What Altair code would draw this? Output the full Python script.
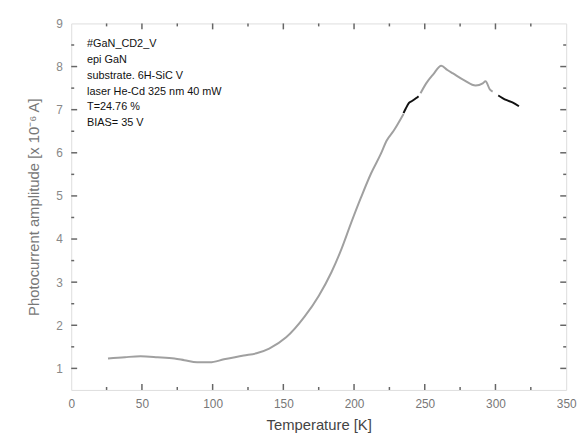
import altair as alt
import pandas as pd

# Main curve (gray), patched sections (black)
gray_a_x = [26, 38, 49, 61, 73, 80, 89, 98, 108, 122, 131, 140, 152, 165, 175, 184, 191, 198, 205, 212, 219, 223, 228, 235]
gray_a_y = [1.23, 1.26, 1.28, 1.26, 1.23, 1.19, 1.14, 1.14, 1.21, 1.30, 1.35, 1.46, 1.72, 2.20, 2.68, 3.23, 3.76, 4.38, 4.97, 5.52, 5.98, 6.28, 6.51, 6.90]
black_a_x = [235, 236.5, 238.7, 241, 244, 245.6]
black_a_y = [6.92, 7.02, 7.15, 7.20, 7.27, 7.31]
gray_b_x = [247, 251, 256, 261.7, 266, 270, 278, 286, 291, 293, 296, 298]
gray_b_y = [7.38, 7.61, 7.82, 8.02, 7.92, 7.84, 7.68, 7.56, 7.61, 7.66, 7.47, 7.42]
black_b_x = [302, 305, 308, 312, 316.6]
black_b_y = [7.33, 7.27, 7.22, 7.17, 7.08]

x_major = [50, 100, 150, 200, 250, 300]
x_minor = [25, 75, 125, 175, 225, 275, 325]
y_major = [1, 2, 3, 4, 5, 6, 7, 8]
y_minor = [1.5, 2.5, 3.5, 4.5, 5.5, 6.5, 7.5, 8.5]
x_labels = [0, 50, 100, 150, 200, 250, 300, 350]
y_labels = [1, 2, 3, 4, 5, 6, 7, 8, 9]

annotation = ["#GaN_CD2_V", "epi GaN", "substrate. 6H-SiC V",
              "laser He-Cd 325 nm  40 mW", "T=24.76 %", "BIAS= 35 V"]

W, H = 501, 371
XD = [0, 350]
YD = [0.5, 9]

rows = []
for seg, kind, xs, ys in [("a", "gray", gray_a_x, gray_a_y), ("b", "black", black_a_x, black_a_y),
                          ("c", "gray", gray_b_x, gray_b_y), ("d", "black", black_b_x, black_b_y)]:
    for i, (x, y) in enumerate(zip(xs, ys)):
        rows.append({"seg": seg, "kind": kind, "T": x, "I": y, "o": i})
df = pd.DataFrame(rows)

xs = alt.Scale(domain=XD, nice=False, zero=False)
ys = alt.Scale(domain=YD, nice=False, zero=False)

lab_font = "Liberation Sans"

base_axes = alt.Chart(pd.DataFrame({"T": [0], "I": [1]})).mark_point(opacity=0).encode(
    x=alt.X("T:Q", scale=xs, axis=alt.Axis(values=x_labels, ticks=False, domain=False, grid=False,
                                           labelPadding=9, labelColor="#777", labelFontSize=12,
                                           labelFont=lab_font, title="Temperature [K]",
                                           titleFont=lab_font, titleFontSize=15, titleFontWeight="normal",
                                           titleColor="#444", titlePadding=8,
                                           labelFlush=False)),
    y=alt.Y("I:Q", scale=ys, axis=alt.Axis(values=y_labels, ticks=False, domain=False, grid=False,
                                           labelPadding=9, labelColor="#888", labelFontSize=12,
                                           labelFont=lab_font, title="Photocurrent amplitude [x 10\u207b\u2076 A]",
                                           titleFont=lab_font, titleFontSize=15, titleFontWeight="normal",
                                           titleColor="#777", titlePadding=14, labelFlush=False)),
)

def ticks_y(vals, length):
    d = pd.DataFrame({"I": vals})
    left = alt.Chart(d).mark_rule(color="#666", strokeWidth=1.5).encode(
        y=alt.Y("I:Q", scale=ys), x=alt.value(0), x2=alt.value(length))
    right = alt.Chart(d).mark_rule(color="#666", strokeWidth=1.5).encode(
        y=alt.Y("I:Q", scale=ys), x=alt.value(W), x2=alt.value(W - length))
    return left + right

def ticks_x(vals, length):
    d = pd.DataFrame({"T": vals})
    bot = alt.Chart(d).mark_rule(color="#666", strokeWidth=1.5).encode(
        x=alt.X("T:Q", scale=xs), y=alt.value(H), y2=alt.value(H - length))
    top = alt.Chart(d).mark_rule(color="#666", strokeWidth=1.5).encode(
        x=alt.X("T:Q", scale=xs), y=alt.value(0), y2=alt.value(length))
    return bot + top

lines = alt.Chart(df).mark_line(strokeWidth=2, interpolate="monotone").encode(
    x=alt.X("T:Q", scale=xs),
    y=alt.Y("I:Q", scale=ys),
    detail="seg:N",
    order="o:Q",
    color=alt.Color("kind:N", scale=alt.Scale(domain=["gray", "black"], range=["#a0a0a0", "#111111"]),
                    legend=None),
)

text = alt.Chart(pd.DataFrame({"t": [annotation]})).mark_text(
    align="left", baseline="top", fontSize=11, font=lab_font, color="#111", lineHeight=16
).encode(x=alt.value(16), y=alt.value(15), text="t")

chart = alt.layer(
    base_axes,
    ticks_y(y_major, 6), ticks_y(y_minor, 3),
    ticks_x(x_major, 6), ticks_x(x_minor, 3),
    lines, text,
).properties(
    width=W, height=H,
    autosize=alt.AutoSizeParams(type="none"),
    padding={"left": 64, "top": 13, "right": 14, "bottom": 45},
).configure_view(stroke="#777", strokeWidth=2).configure(background="white")

chart.save("out.html", embed_options={"renderer": "svg", "actions": False})
